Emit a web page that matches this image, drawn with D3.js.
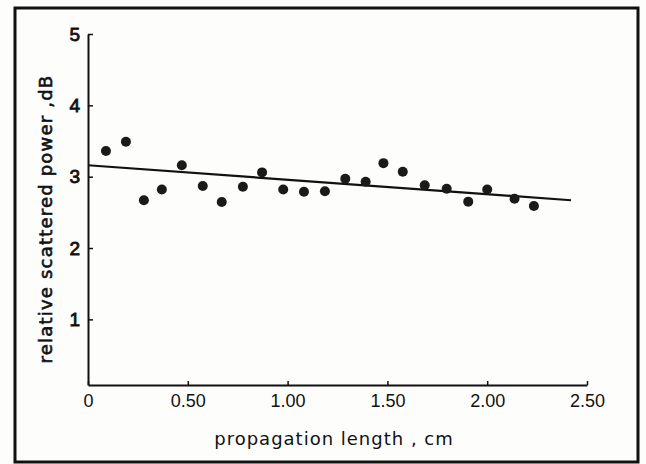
<!DOCTYPE html>
<html>
<head>
<meta charset="utf-8">
<script src="https://cdn.jsdelivr.net/npm/d3@7"></script>
<style>
  body { margin: 0; background: #fff; }
  svg { display: block; font-family: "DejaVu Sans", sans-serif; }
</style>
</head>
<body>
<div id="chart"></div>
<script>
// measured points (propagation length in cm, relative scattered power in dB)
const lengths = [0.09, 0.19, 0.28, 0.37, 0.47, 0.575, 0.67, 0.776, 0.872, 0.978, 1.082,
                 1.187, 1.289, 1.391, 1.48, 1.577, 1.687, 1.797, 1.905, 2.0, 2.137, 2.234];
const powers = [3.36, 3.49, 2.67, 2.82, 3.16, 2.87, 2.645, 2.86, 3.06, 2.82, 2.79,
                2.795, 2.97, 2.93, 3.19, 3.07, 2.88, 2.83, 2.65, 2.82, 2.69, 2.59];

// fitted straight line
const fitX = [0, 2.42];
const fitY = [3.16, 2.67];

const xTicks = [0, 0.5, 1.0, 1.5, 2.0, 2.5];
const yTicks = [1, 2, 3, 4, 5];

const W = 646, H = 464;
const margin = { top: 34, right: 59, bottom: 79, left: 88 };

const svg = d3.select("#chart").append("svg")
    .attr("width", W)
    .attr("height", H);

svg.append("rect")
    .attr("width", W).attr("height", H)
    .attr("fill", "#fdfdfc");

// frame round the whole figure
svg.append("rect")
    .attr("x", 15).attr("y", 8)
    .attr("width", 623).attr("height", 454)
    .attr("fill", "none")
    .attr("stroke", "#111")
    .attr("stroke-width", 3);

const x = d3.scaleLinear()
    .domain([0, 2.5])
    .range([margin.left, W - margin.right]);

const y = d3.scaleLinear()
    .domain([0.08, 5])
    .range([H - margin.bottom, margin.top]);

//x axis, ticks pointing inward
const xAxis = svg.append("g")
    .attr("transform", `translate(0, ${y(0.08)})`)
    .call(d3.axisBottom(x)
        .tickValues(xTicks)
        .tickSizeInner(-4)
        .tickSizeOuter(0)
        .tickPadding(9)
        .tickFormat(d => d === 0 ? "0" : d3.format(".2f")(d)));

//y axis, ticks pointing inward
const yAxis = svg.append("g")
    .attr("transform", `translate(${x(0)}, 0)`)
    .call(d3.axisLeft(y)
        .tickValues(yTicks)
        .tickSizeInner(-5)
        .tickSizeOuter(0)
        .tickPadding(8)
        .tickFormat(d3.format("d")));

[xAxis, yAxis].forEach(g => {
    g.select(".domain").attr("stroke", "#111").attr("stroke-width", 2);
    g.selectAll(".tick line").attr("stroke", "#111").attr("stroke-width", 1.5);
    g.selectAll("text")
        .attr("fill", "#111")
        .style("font-size", "18px");
});
yAxis.selectAll("text")
    .style("font-size", "19px")
    .attr("stroke", "#111")
    .attr("stroke-width", 0.8);

// fitted line
svg.append("line")
    .attr("x1", x(fitX[0])).attr("y1", y(fitY[0]))
    .attr("x2", x(fitX[1])).attr("y2", y(fitY[1]))
    .attr("stroke", "#111")
    .attr("stroke-width", 2.2);

// data points
svg.append("g")
    .selectAll("circle")
    .data(lengths.map((d, i) => ({ x: d, y: powers[i] })))
    .join("circle")
    .attr("cx", d => x(d.x))
    .attr("cy", d => y(d.y))
    .attr("r", 5)
    .attr("fill", "#1a1a1a");

// axis titles
svg.append("text")
    .attr("x", 334)
    .attr("y", 445)
    .attr("text-anchor", "middle")
    .attr("fill", "#111")
    .style("font-size", "18px")
    .style("letter-spacing", "1px")
    .text("propagation length , cm");

svg.append("text")
    .attr("transform", `translate(52, ${219}) rotate(-90)`)
    .attr("text-anchor", "middle")
    .attr("fill", "#111")
    .attr("stroke", "#111")
    .attr("stroke-width", 0.6)
    .style("font-size", "18px")
    .style("letter-spacing", "1.2px")
    .text("relative scattered power ,dB");
</script>
</body>
</html>
